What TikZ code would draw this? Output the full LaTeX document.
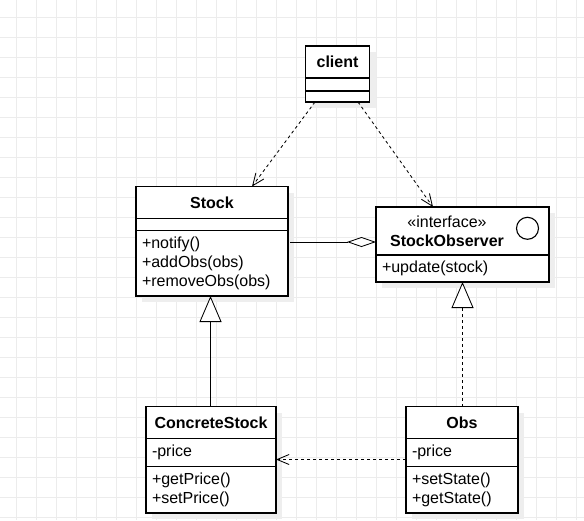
\documentclass[tikz,border=0pt]{standalone}
\usepackage{fontspec}
\setmainfont{Liberation Sans}
\usetikzlibrary{arrows.meta,calc,positioning}
\definecolor{gridgray}{RGB}{236,236,236}
\definecolor{shadowgray}{RGB}{238,238,238}
\newcommand{\umlsize}{\fontsize{16}{18.7}\selectfont}
\tikzset{
	box/.style={draw, line width=1.1pt, fill=white, inner ysep=0pt, outer sep=0pt, font=\umlsize},
	titlebox/.style={box, font=\umlsize\bfseries, align=center, inner xsep=0pt},
	listbox/.style={box, align=left, inner xsep=6pt},
	link/.style={line width=0.85pt},
	dep/.style={link, dash pattern=on 3pt off 3pt},
	openhead/.style={-{Straight Barb[length=12pt,width=10pt]}},
	inherit/.style={-{Triangle[length=26pt,width=22pt,fill=white]}}
}

\begin{document}
\begin{tikzpicture}[x=1pt, y=-1pt]
			%%%%% START %%%%%
			\useasboundingbox (0,0) rectangle (584,520);
			
			\foreach \gx in {16,36,...,576}
				\draw[gridgray, line width=1pt] (\gx,0) -- (\gx,520);
			\foreach \gy in {17,37,...,517}
				\draw[gridgray, line width=1pt] (0,\gy) -- (584,\gy);
			
			\fill[shadowgray] (311.5,52) rectangle (375.5,108);
			\fill[shadowgray] (142,192.5) rectangle (294,302);
			\fill[shadowgray] (382,213) rectangle (555,288);
			\fill[shadowgray] (152,412.5) rectangle (282,519);
			\fill[shadowgray] (412,412.5) rectangle (524,519);
			
			\node[titlebox, minimum width=64pt, minimum height=32pt, anchor=north] (clienttitle) at (337.5,46) {client};
			\node[box, minimum width=64pt, minimum height=13pt, below=0pt of clienttitle] (clientattr) {};
			\node[box, minimum width=64pt, minimum height=11pt, below=0pt of clientattr] (clientmeth) {};
			
			\node[titlebox, minimum width=152pt, minimum height=32pt, anchor=north] (stocktitle) at (212,186.5) {Stock};
			\node[box, minimum width=152pt, minimum height=12pt, below=0pt of stocktitle] (stockattr) {};
			\node[listbox, text width=140pt, minimum height=65.5pt, below=0pt of stockattr] (stockmeth) {+notify()\\+addObs(obs)\\+removeObs(obs)};
			
			\node[box, minimum width=173pt, minimum height=48pt, anchor=north] (ifacetitle) at (462.5,207) {};
			\node[align=center, inner sep=0pt, font=\umlsize] (ifacelabel) at ($(ifacetitle.center)+(-15.5,0)$) {«interface»\\\textbf{StockObserver}};
			\node[draw, circle, line width=1.1pt, minimum size=22pt, inner sep=0pt] (ifaceicon) at ($(ifacetitle.center)+(65,-2.7)$) {};
			\node[listbox, text width=161pt, minimum height=27pt, below=0pt of ifacetitle] (ifacemeth) {+update(stock)};
			
			\node[titlebox, minimum width=130pt, minimum height=32pt, anchor=north] (cstitle) at (211,406.5) {ConcreteStock};
			\node[listbox, text width=118pt, minimum height=28pt, below=0pt of cstitle] (csattr) {-price};
			\node[listbox, text width=118pt, minimum height=46.5pt, below=0pt of csattr] (csmeth) {+getPrice()\\+setPrice()};
			
			\node[titlebox, minimum width=112pt, minimum height=32pt, anchor=north] (obstitle) at (462,406.5) {Obs};
			\node[listbox, text width=100pt, minimum height=28pt, below=0pt of obstitle] (obsattr) {-price};
			\node[listbox, text width=100pt, minimum height=46.5pt, below=0pt of obsattr] (obsmeth) {+setState()\\+getState()};
			
			\draw[dep, openhead] ($(clientmeth.south)+(-22.5,0)$) -- ($(stocktitle.north)+(40,0)$);
			\draw[dep, openhead] ($(clientmeth.south)+(20.5,0)$) -- ($(ifacetitle.north)+(-29.5,0)$);
			\draw[link, -{Diamond[length=29pt,width=10pt,fill=white]}] ($(stockmeth.north east)+(2,11.5)$) -- ($(ifacetitle.south west)+(0,-13)$);
			\draw[link, inherit] ($(cstitle.north)+(-0.5,0)$) -- ($(cstitle.north |- stockmeth.south)+(-0.5,0)$);
			\draw[dep, inherit] ($(obstitle.north)+(0.5,0)$) -- ($(obstitle.north |- ifacemeth.south)+(0.5,0)$);
			\draw[dep, openhead] ($(obsattr.west)+(0,7)$) -- ($(csattr.east)+(0,7)$);
			
			%%%%% END %%%%%
\end{tikzpicture}
\end{document}
